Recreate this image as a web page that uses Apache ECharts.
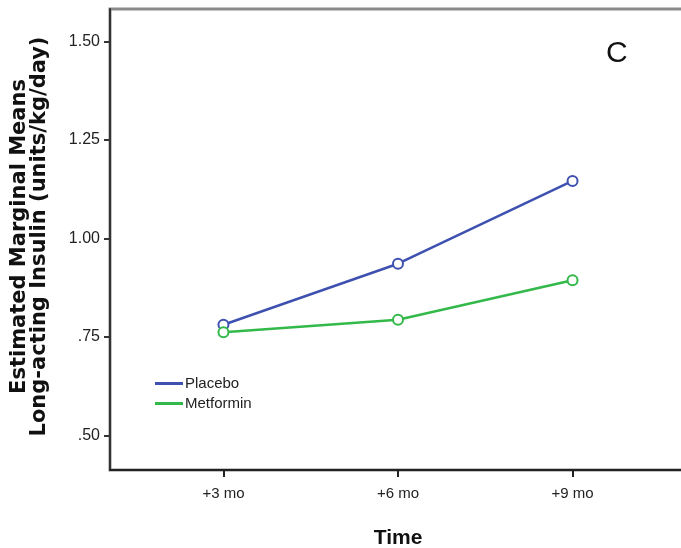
<!DOCTYPE html>
<html>
<head>
    <meta charset="UTF-8">
    <title>Long-acting Insulin</title>
    <script src="https://cdn.jsdelivr.net/npm/echarts@6.0.0/dist/echarts.min.js"></script>
    <style>
        html, body {margin: 0; padding: 0; background: #fff;}
        #chart {width: 681px; height: 548px;}
    </style>
</head>
<body>
    <div id="chart"></div>

    <script>
        // time points (x positions 1..3 on a value axis)
        const timeLabels = ['+3 mo', '+6 mo', '+9 mo'];
        const timeIndex = [1, 2, 3];

        // estimated marginal means, units/kg/day
        const placebo = [0.781, 0.936, 1.146];
        const metformin = [0.762, 0.794, 0.894];

        const yTicks = [0.5, 0.75, 1.0, 1.25, 1.5];
        const yTickLabels = ['.50', '.75', '1.00', '1.25', '1.50'];

        const toPairs = vals => vals.map((v, i) => [timeIndex[i], v]);

        const chart = echarts.init(document.getElementById('chart'));

        chart.setOption({
            animation: false,
            grid: {
                left: 110, top: 9, right: -5, bottom: 78, outerBoundsMode: 'none',
                show: true, borderColor: '#8a8a8a', borderWidth: 3
            },
            graphic: [{
                type: 'text', left: 606, top: 39,
                style: { text: 'C', fontFamily: 'Liberation Sans', fontSize: 30, fill: '#111' }
            }],
            legend: {
                left: 150, top: 371, orient: 'vertical', itemGap: 5,
                itemWidth: 28, itemHeight: 3, icon: 'rect',
                textStyle: { fontFamily: 'Liberation Sans', fontSize: 15, color: '#222', padding: [0, 0, 0, -3] },
                data: ['Placebo', 'Metformin']
            },
            xAxis: {
                type: 'value', min: 0.35, max: 3.65,
                name: 'Time', nameLocation: 'middle', nameGap: 58,
                nameTextStyle: { fontFamily: 'Liberation Sans', fontSize: 21, fontWeight: 'bold', color: '#111' },
                splitLine: { show: false },
                axisLine: { show: true, lineStyle: { color: '#222', width: 2 } },
                axisTick: { show: true, customValues: timeIndex, length: 7, lineStyle: { color: '#222', width: 2 } },
                axisLabel: {
                    customValues: timeIndex, margin: 16,
                    fontFamily: 'Liberation Sans', fontSize: 15, color: '#222',
                    formatter: v => timeLabels[timeIndex.indexOf(v)]
                }
            },
            yAxis: {
                type: 'value', min: 0.4125, max: 1.5825,
                name: 'Estimated Marginal Means\nLong-acting Insulin (units/kg/day)',
                nameLocation: 'middle', nameGap: 60, nameRotate: 90,
                nameTextStyle: {
                    fontFamily: 'DejaVu Sans', fontSize: 21, fontWeight: 'bold', color: '#111',
                    lineHeight: 20, padding: [0, 0, 0, 6]
                },
                splitLine: { show: false },
                axisLine: { show: true, lineStyle: { color: '#333', width: 2 } },
                axisTick: { show: true, customValues: yTicks, length: 6, lineStyle: { color: '#333', width: 2 } },
                axisLabel: {
                    customValues: yTicks, margin: 10,
                    fontFamily: 'Liberation Sans', fontSize: 16, color: '#222',
                    formatter: v => yTickLabels[yTicks.indexOf(v)]
                }
            },
            series: [
                {
                    name: 'Placebo', type: 'line', data: toPairs(placebo),
                    symbol: 'emptyCircle', symbolSize: 10,
                    lineStyle: { width: 2.5, color: '#3f51b0' },
                    itemStyle: { color: '#3f51b0', borderWidth: 1.2 }
                },
                {
                    name: 'Metformin', type: 'line', data: toPairs(metformin),
                    symbol: 'emptyCircle', symbolSize: 10,
                    lineStyle: { width: 2.5, color: '#33b84a' },
                    itemStyle: { color: '#33b84a', borderWidth: 1.2 }
                }
            ]
        });
    </script>
</body>
</html>
